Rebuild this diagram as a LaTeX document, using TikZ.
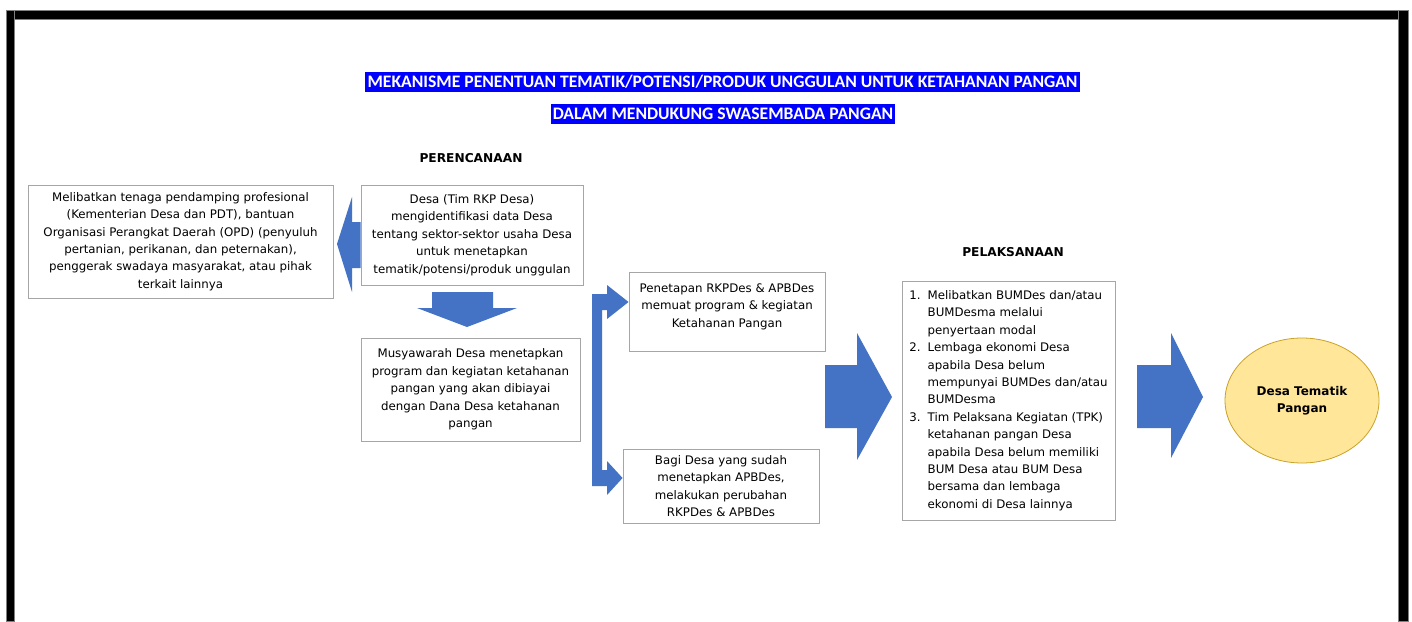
\documentclass[tikz,border=0pt]{standalone}
\usepackage{fontspec}
\setmainfont{DejaVu Sans}
\newfontfamily\judulfont{Carlito}
\usetikzlibrary{shapes.geometric}

\definecolor{birupanah}{HTML}{4472C4}
\definecolor{birujudul}{HTML}{0000FF}
\definecolor{kuningtema}{HTML}{FFE699}
\definecolor{garistema}{HTML}{C9A227}
\definecolor{garisbox}{HTML}{A6A6A6}

\tikzset{
  kotak/.style={draw=garisbox,line width=0.9pt,fill=white,align=center,inner sep=0pt,
    font=\fontsize{11.8}{17.4}\selectfont},
  judul/.style={fill=birujudul,text=white,inner sep=0pt,minimum height=20pt,
    font=\judulfont\bfseries\fontsize{17.6}{18}\selectfont},
  tahap/.style={font=\bfseries\fontsize{12.2}{14}\selectfont},
  panah/.style={fill=birupanah,draw=none},
  bingkai/.style={fill=black,draw=gray,line width=0.6pt}
}

\begin{document}
\begin{tikzpicture}[x=1pt,y=-1pt]
\useasboundingbox[fill=white] (0,0) rectangle (1412,621);
% bingkai hitam
\fill[bingkai] (6,10) rectangle (1408,19);
\fill[bingkai] (6,10) rectangle (14,621);
\fill[bingkai] (1398,10) rectangle (1408,621);

% judul
\node[judul,minimum width=715pt] (judul1) at (722.5,82) {MEKANISME PENENTUAN TEMATIK/POTENSI/PRODUK UNGGULAN UNTUK KETAHANAN PANGAN};
\node[judul,minimum width=344pt] (judul2) at (723,114) {DALAM MENDUKUNG SWASEMBADA PANGAN};

\node[tahap] (rencana) at (471,158) {PERENCANAAN};
\node[tahap] (laksana) at (1013,252) {PELAKSANAAN};

% kotak perencanaan
\node[kotak,minimum width=305pt,minimum height=113pt] (libat) at (180.5,241.5)
  {Melibatkan tenaga pendamping profesional\\(Kementerian Desa dan PDT), bantuan\\Organisasi Perangkat Daerah (OPD) (penyuluh\\pertanian, perikanan, dan peternakan),\\penggerak swadaya masyarakat, atau pihak\\terkait lainnya};
\node[kotak,minimum width=222pt,minimum height=100pt] (desa) at (472,235)
  {Desa (Tim RKP Desa)\\mengidentifikasi data Desa\\tentang sektor-sektor usaha Desa\\untuk menetapkan\\tematik/potensi/produk unggulan};
\node[kotak,minimum width=219pt,minimum height=103pt] (musdes) at (470.5,389.5)
  {Musyawarah Desa menetapkan\\program dan kegiatan ketahanan\\pangan yang akan dibiayai\\dengan Dana Desa ketahanan\\pangan};
\node[kotak,minimum width=196pt,minimum height=79pt] (apbdes) at (727,311.5)
  {Penetapan RKPDes \& APBDes\\memuat program \& kegiatan\\Ketahanan Pangan\\[-5pt]};
\node[kotak,minimum width=196pt,minimum height=74pt] (ubah) at (721,486)
  {Bagi Desa yang sudah\\menetapkan APBDes,\\melakukan perubahan\\RKPDes \& APBDes};

% kotak pelaksanaan
\node[kotak,minimum width=213pt,minimum height=239pt,align=left] (bumdes) at (1008.5,400.5)
  {\begin{tabular}{@{}l@{\hspace{7pt}}l@{}}
   1. & Melibatkan BUMDes dan/atau\\
      & BUMDesma melalui\\
      & penyertaan modal\\
   2. & Lembaga ekonomi Desa\\
      & apabila Desa belum\\
      & mempunyai BUMDes dan/atau\\
      & BUMDesma\\
   3. & Tim Pelaksana Kegiatan (TPK)\\
      & ketahanan pangan Desa\\
      & apabila Desa belum memiliki\\
      & BUM Desa atau BUM Desa\\
      & bersama dan lembaga\\
      & ekonomi di Desa lainnya
   \end{tabular}};
\node[ellipse,draw=garistema,line width=0.8pt,fill=kuningtema,inner sep=0pt,
  minimum width=154pt,minimum height=125pt,align=center,
  font=\bfseries\fontsize{12}{17.4}\selectfont] (tema) at (1302,400.5) {Desa Tematik\\Pangan};

% panah blok
\fill[panah] (desa.west |- 0,222) -- (352,222) -- (352,197) -- (337,244)
  -- (352,292) -- (352,268) -- (desa.west |- 0,268) -- cycle;
\fill[panah] (432,292) -- (493,292) -- (493,308) -- (517,308) -- (467,327)
  -- (417,308) -- (432,308) -- cycle;
\fill[panah] (592,294) -- (607,294) -- (607,285) -- (apbdes.west |- 0,302) -- (607,319)
  -- (607,310) -- (602,310) -- (602,470) -- (607,470) -- (607,461) -- (ubah.west |- 0,478)
  -- (607,495) -- (607,486) -- (592,486) -- cycle;
\fill[panah] (825,365) -- (857,365) -- (857,333) -- (892,397) -- (857,460)
  -- (857,428) -- (825,428) -- cycle;
\fill[panah] (1137,365) -- (1171,365) -- (1171,333) -- (1203,397) -- (1171,458)
  -- (1171,428) -- (1137,428) -- cycle;
\end{tikzpicture}
\end{document}
